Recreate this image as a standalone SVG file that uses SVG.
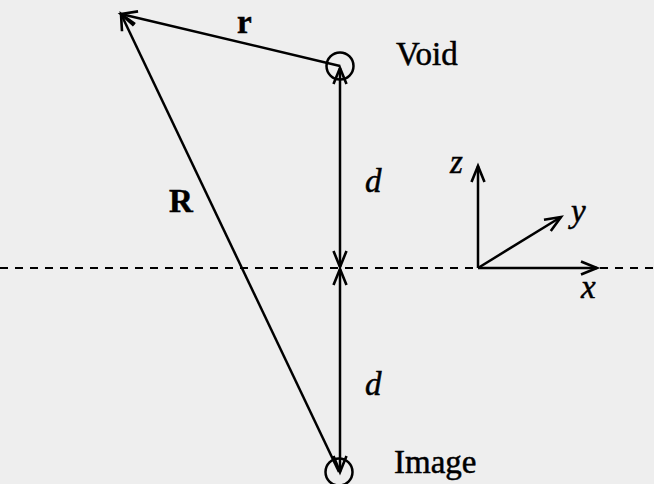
<svg xmlns="http://www.w3.org/2000/svg" width="654" height="484" viewBox="0 0 654 484">
<defs>
<marker id="ah" markerUnits="userSpaceOnUse" markerWidth="30" markerHeight="30" refX="0" refY="0" viewBox="-20 -15 30 30" orient="auto-start-reverse" overflow="visible">
<path d="M-16,-6.5 L0,0 L-16,6.5" fill="none" stroke="#000" stroke-width="2.6"/>
</marker>
<style>
.ln{stroke:#000;stroke-width:2.5;fill:none}
.t{font-family:"Liberation Serif","Times New Roman",serif;font-size:33px;fill:#000;stroke:#000;stroke-width:0.5}
.b{font-weight:bold}
.i{font-style:italic}
</style>
</defs>
<rect width="654" height="484" fill="#eeeeee"/>
<line x1="0" y1="268" x2="654" y2="268" stroke="#000" stroke-width="2.2" stroke-dasharray="8,7"/>
<g id="connectors">
<line class="ln" x1="340" y1="66" x2="121" y2="14" marker-end="url(#ah)"/>
<line class="ln" x1="339" y1="472" x2="121" y2="14" marker-end="url(#ah)"/>
<line class="ln" x1="340" y1="68" x2="340" y2="267" marker-start="url(#ah)" marker-end="url(#ah)"/>
<line class="ln" x1="340" y1="269" x2="340" y2="472" marker-start="url(#ah)" marker-end="url(#ah)"/>
<line class="ln" x1="478" y1="268" x2="478" y2="166" marker-end="url(#ah)"/>
<line class="ln" x1="478" y1="268" x2="561" y2="217" marker-end="url(#ah)"/>
<line class="ln" x1="478" y1="268" x2="597" y2="268" marker-end="url(#ah)"/>
</g>
<g id="void">
<circle cx="340" cy="66" r="13.5" class="ln"/>
<text class="t" x="396" y="65">Void</text>
</g>
<g id="image">
<circle cx="339" cy="472" r="13.5" class="ln"/>
<text class="t" x="394" y="473">Image</text>
</g>
<g id="labels">
<text class="t b" x="237" y="33">r</text>
<text class="t b" x="169" y="212">R</text>
<text class="t i" x="365" y="192">d</text>
<text class="t i" x="365" y="395">d</text>
<text class="t i" x="450" y="173">z</text>
<text class="t i" x="571" y="222">y</text>
<text class="t i" x="581" y="298">x</text>
</g>
</svg>
